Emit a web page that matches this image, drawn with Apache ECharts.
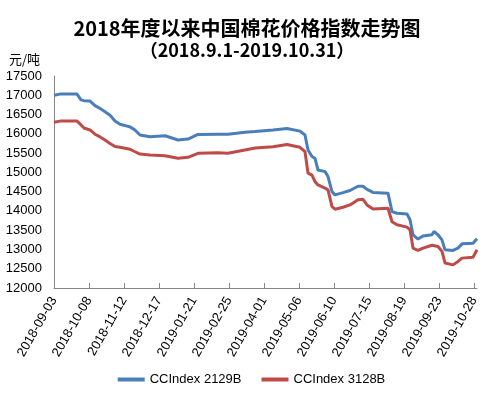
<!DOCTYPE html>
<html>
<head>
<meta charset="utf-8">
<script src="https://cdn.jsdelivr.net/npm/echarts@6/dist/echarts.min.js"></script>
<style>
html,body{margin:0;padding:0;background:#fff;}
#chart{width:503px;height:395px;}
</style>
</head>
<body>
<div id="chart"></div>
<script>
// ---- data ----
var dates = [
  '2018-09-03','2018-09-09','2018-09-26','2018-09-30','2018-10-03','2018-10-09','2018-10-14',
  '2018-10-19','2018-10-24','2018-10-29','2018-11-03','2018-11-08','2018-11-18','2018-11-23',
  '2018-11-28','2018-12-08','2018-12-23','2019-01-05','2019-01-15','2019-01-25','2019-02-14',
  '2019-02-24','2019-03-13','2019-03-23','2019-04-10','2019-04-24','2019-05-07','2019-05-12',
  '2019-05-15','2019-05-19','2019-05-22','2019-05-25','2019-06-01','2019-06-04','2019-06-08',
  '2019-06-11','2019-06-19','2019-06-26','2019-07-04','2019-07-09','2019-07-13','2019-07-19',
  '2019-08-03','2019-08-07','2019-08-12','2019-08-22','2019-08-25','2019-08-28','2019-09-02',
  '2019-09-07','2019-09-16','2019-09-18','2019-09-22','2019-09-26','2019-09-29','2019-10-07',
  '2019-10-12','2019-10-16','2019-10-27','2019-10-31'
];
var cc2129 = [
  17000,17030,17030,16880,16860,16850,16730,
  16660,16570,16480,16330,16250,16180,16100,
  15970,15925,15950,15840,15865,15985,15990,
  15990,16040,16060,16100,16140,16070,15970,
  15580,15410,15365,15060,15020,14890,14500,
  14415,14475,14530,14640,14640,14560,14480,
  14460,13980,13940,13920,13770,13380,13270,
  13350,13380,13465,13380,13250,12990,12975,
  13035,13145,13160,13280
];
var cc3128 = [
  16300,16330,16330,16230,16150,16100,15990,
  15920,15840,15750,15670,15650,15600,15535,
  15475,15450,15430,15365,15390,15495,15510,
  15495,15580,15630,15665,15725,15650,15535,
  14980,14930,14760,14675,14590,14545,14110,
  14045,14095,14155,14290,14300,14156,14050,
  14070,13720,13640,13580,13510,13035,12975,
  13035,13110,13120,13077,12950,12650,12600,
  12690,12775,12800,12990
];
var tickLabels = [
  '2018-09-03','2018-10-08','2018-11-12','2018-12-17','2019-01-21','2019-02-25','2019-04-01',
  '2019-05-06','2019-06-10','2019-07-15','2019-08-19','2019-09-23','2019-10-28'
];
var axisStart = '2018-09-03';
var axisEnd = '2019-10-31';
var seriesNames = ['CCIndex 2129B','CCIndex 3128B'];
var titleText = '2018年度以来中国棉花价格指数走势图';
var subtitleText = '（2018.9.1-2019.10.31）';
var unitText = '元/吨';

var DAY = 86400000;
function ts(s){ var p = s.split('-'); return Date.UTC(+p[0], +p[1]-1, +p[2]); }
function pairs(vals){ return dates.map(function(d,i){ return [ts(d), vals[i]]; }); }
function pad(n){ return n < 10 ? '0' + n : '' + n; }
function fmt(v){ var d = new Date(v); return d.getUTCFullYear()+'-'+pad(d.getUTCMonth()+1)+'-'+pad(d.getUTCDate()); }
var tickVals = tickLabels.map(ts);

var chart = echarts.init(document.getElementById('chart'), null, {renderer:'canvas'});
var labelFont = 'Liberation Sans, Arial, sans-serif';
chart.setOption({
  animation: false,
  backgroundColor: '#fff',
  graphic: [
    {type:'text', x:247, y:28, style:{text:titleText, font:'bold 20px "Noto Sans CJK SC"', fill:'#000', align:'center', verticalAlign:'middle'}},
    {type:'text', x:247, y:50, style:{text:subtitleText, font:'bold 18px "Noto Sans CJK SC"', fill:'#000', align:'center', verticalAlign:'middle'}}
  ],
  grid: {left:54, right:26, top:76, bottom:107, containLabel:false},
  xAxis: {
    type:'value',
    min: ts(axisStart), max: ts(axisEnd), interval: 35*DAY,
    axisLine:{show:true, lineStyle:{color:'#868686', width:1}},
    axisTick:{show:true, inside:true, length:5, lineStyle:{color:'#868686'}, customValues: tickVals},
    splitLine:{show:false},
    axisLabel:{
      customValues: tickVals,
      rotate:60, margin:10, color:'#000', fontSize:13, fontFamily:labelFont,
      formatter:function(v){ return fmt(v); }
    }
  },
  yAxis: {
    type:'value', min:12000, max:17500, interval:500,
    name: unitText, nameLocation:'end', nameGap:10,
    nameTextStyle:{color:'#000', fontSize:13, fontFamily:'"Noto Sans CJK SC"', align:'right', padding:[0,14,0,0]},
    axisLine:{show:true, lineStyle:{color:'#868686', width:1}},
    axisTick:{show:false},
    splitLine:{show:false},
    axisLabel:{color:'#000', fontSize:13, fontFamily:labelFont, margin:12,
      formatter:function(v){ return String(v); }}
  },
  legend: {
    bottom: 4, left:'center', itemWidth:27, itemHeight:4, itemGap:20,
    icon:'rect',
    textStyle:{color:'#000', fontSize:13, fontFamily:labelFont},
    data: seriesNames
  },
  series: [
    {name:seriesNames[0], type:'line', data:pairs(cc2129), showSymbol:false, symbol:'none',
     color:'#4A7EBB', lineStyle:{color:'#4A7EBB', width:3}},
    {name:seriesNames[1], type:'line', data:pairs(cc3128), showSymbol:false, symbol:'none',
     color:'#BE4B48', lineStyle:{color:'#BE4B48', width:3}}
  ]
});
</script>
</body>
</html>
